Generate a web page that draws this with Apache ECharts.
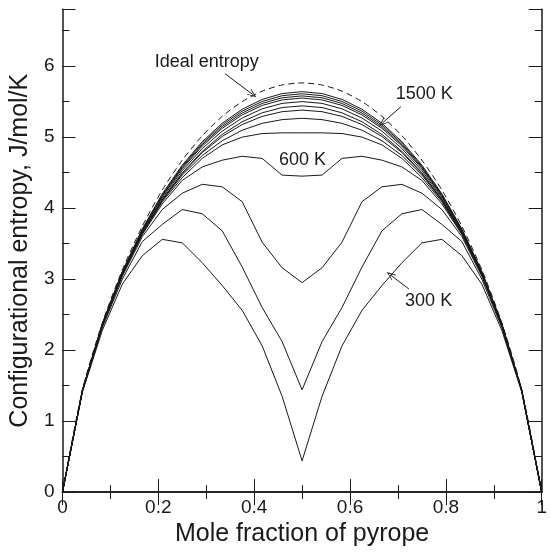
<!DOCTYPE html>
<html>
<head>
<meta charset="utf-8">
<script src="https://cdn.jsdelivr.net/npm/echarts@6/dist/echarts.min.js"></script>
<style>html,body{margin:0;padding:0;background:#fff}#c{width:550px;height:552px}</style>
</head>
<body>
<div id="c"></div>
<script>
// Mole fraction of pyrope (composition grid)
var xs = [0, 0.0417, 0.0833, 0.125, 0.1667, 0.2083, 0.25, 0.2917, 0.3333, 0.375, 0.4167, 0.4583, 0.5,
          0.5417, 0.5833, 0.625, 0.6667, 0.7083, 0.75, 0.7917, 0.8333, 0.875, 0.9167, 0.9583, 1];
// Ideal configurational entropy (dashed)
var ideal = [0, 1.44, 2.385, 3.132, 3.746, 4.255, 4.675, 5.019, 5.292, 5.5, 5.647, 5.734, 5.763,
             5.734, 5.647, 5.5, 5.292, 5.019, 4.675, 4.255, 3.746, 3.132, 2.385, 1.44, 0];
// Configurational entropy at temperatures 300 K ... 1500 K
var s300 = [0, 1.41, 2.28, 2.93, 3.33, 3.56, 3.51, 3.23, 2.91, 2.56, 2.06, 1.35, 0.44,
            1.35, 2.06, 2.56, 2.91, 3.23, 3.51, 3.56, 3.33, 2.93, 2.28, 1.41, 0];
var s400 = [0, 1.42, 2.32, 3.0, 3.53, 3.77, 3.98, 3.92, 3.68, 3.17, 2.6, 2.12, 1.44,
            2.12, 2.6, 3.17, 3.68, 3.92, 3.98, 3.77, 3.53, 3.0, 2.32, 1.42, 0];
var s500 = [0, 1.43, 2.34, 3.04, 3.6, 3.98, 4.21, 4.335, 4.3, 4.09, 3.52, 3.16, 2.95,
            3.16, 3.52, 4.09, 4.3, 4.335, 4.21, 3.98, 3.6, 3.04, 2.34, 1.43, 0];
var s600 = [0, 1.43, 2.35, 3.06, 3.63, 4.06, 4.39, 4.58, 4.675, 4.73, 4.7, 4.465, 4.45,
            4.465, 4.7, 4.73, 4.675, 4.58, 4.39, 4.06, 3.63, 3.06, 2.35, 1.43, 0];
var s700 = [0, 1.43, 2.35, 3.07, 3.64, 4.09, 4.43, 4.7, 4.89, 5.0, 5.05, 5.06, 5.06,
            5.06, 5.05, 5.0, 4.89, 4.7, 4.43, 4.09, 3.64, 3.07, 2.35, 1.43, 0];
var s800 = [0, 1.43, 2.355, 3.072, 3.646, 4.106, 4.466, 4.74, 4.948, 5.097, 5.194, 5.246, 5.265,
            5.246, 5.194, 5.097, 4.948, 4.74, 4.466, 4.106, 3.646, 3.072, 2.355, 1.43, 0];
var s900 = [0, 1.432, 2.356, 3.073, 3.648, 4.114, 4.487, 4.782, 5.009, 5.176, 5.292, 5.358, 5.38,
            5.358, 5.292, 5.176, 5.009, 4.782, 4.487, 4.114, 3.648, 3.073, 2.356, 1.432, 0];
var s1000 = [0, 1.432, 2.356, 3.075, 3.652, 4.12, 4.497, 4.8, 5.037, 5.216, 5.342, 5.416, 5.44,
             5.416, 5.342, 5.216, 5.037, 4.8, 4.497, 4.12, 3.652, 3.075, 2.356, 1.432, 0];
var s1100 = [0, 1.433, 2.361, 3.082, 3.664, 4.141, 4.528, 4.839, 5.084, 5.269, 5.398, 5.475, 5.5,
             5.475, 5.398, 5.269, 5.084, 4.839, 4.528, 4.141, 3.664, 3.082, 2.361, 1.433, 0];
var s1200 = [0, 1.435, 2.366, 3.092, 3.68, 4.162, 4.556, 4.874, 5.124, 5.313, 5.446, 5.524, 5.55,
             5.524, 5.446, 5.313, 5.124, 4.874, 4.556, 4.162, 3.68, 3.092, 2.366, 1.435, 0];
var s1300 = [0, 1.435, 2.369, 3.097, 3.689, 4.175, 4.573, 4.894, 5.147, 5.339, 5.474, 5.554, 5.58,
             5.554, 5.474, 5.339, 5.147, 4.894, 4.573, 4.175, 3.689, 3.097, 2.369, 1.435, 0];
var s1400 = [0, 1.436, 2.371, 3.103, 3.699, 4.188, 4.589, 4.915, 5.171, 5.366, 5.502, 5.583, 5.61,
             5.583, 5.502, 5.366, 5.171, 4.915, 4.589, 4.188, 3.699, 3.103, 2.371, 1.436, 0];
var s1500 = [0, 1.437, 2.374, 3.109, 3.708, 4.201, 4.606, 4.935, 5.195, 5.392, 5.531, 5.613, 5.64,
             5.613, 5.531, 5.392, 5.195, 4.935, 4.606, 4.201, 3.708, 3.109, 2.374, 1.437, 0];
var curves = [s300, s400, s500, s600, s700, s800, s900, s1000, s1100, s1200, s1300, s1400, s1500];
var curveNames = ['300 K', '400 K', '500 K', '600 K', '700 K', '800 K', '900 K', '1000 K',
                  '1100 K', '1200 K', '1300 K', '1400 K', '1500 K'];
// Tick labels
var xTicks = ['0', '0.2', '0.4', '0.6', '0.8', '1'];
var yTicks = ['0', '1', '2', '3', '4', '5', '6'];

var FONT = "'Liberation Sans', Arial, Helvetica, sans-serif";
var INK = '#1a1a1a';

function pairs(vals) { return xs.map(function (x, i) { return [x, vals[i]]; }); }

var chart = echarts.init(document.getElementById('c'), null, { renderer: 'canvas' });

var axisLineStyle = { show: true, lineStyle: { color: INK, width: 1.5 } };
function xAxisDef(pos, labels) {
  return {
    type: 'value', position: pos, min: 0, max: 1, interval: 0.2,
    axisLine: axisLineStyle,
    axisTick: { show: true, inside: true, length: 13, lineStyle: { color: INK, width: 1 } },
    minorTick: { show: true, splitNumber: 2, length: 7, lineStyle: { color: INK, width: 1 } },
    splitLine: { show: false }, minorSplitLine: { show: false },
    axisLabel: labels ? {
      show: true, margin: 6, fontSize: 19, color: INK, fontFamily: FONT,
      formatter: function (v) { var s = String(+v.toFixed(1)); return xTicks.indexOf(s) >= 0 ? s : ''; }
    } : { show: false }
  };
}
function yAxisDef(pos, interval, len, labels, line) {
  return {
    type: 'value', position: pos, min: 0, max: 6.8, interval: interval,
    axisLine: line ? axisLineStyle : { show: false },
    axisTick: { show: true, inside: true, length: len, lineStyle: { color: INK, width: 1 } },
    splitLine: { show: false },
    axisLabel: labels ? {
      show: true, margin: 8, fontSize: 19, color: INK, fontFamily: FONT,
      formatter: function (v) { var s = String(+v.toFixed(1)); return yTicks.indexOf(s) >= 0 ? s : ''; }
    } : { show: false }
  };
}

var xA0 = xAxisDef('bottom', true);
xA0.name = 'Mole fraction of pyrope';
xA0.nameLocation = 'middle';
xA0.nameGap = 24;
xA0.nameTextStyle = { fontSize: 25, color: INK, fontFamily: FONT };

var yA0 = yAxisDef('left', 1, 13, true, true);
yA0.name = 'Configurational entropy, J/mol/K';
yA0.nameLocation = 'middle';
yA0.nameGap = 25;
yA0.nameTextStyle = { fontSize: 25, color: INK, fontFamily: FONT };

var chevron = 'path://M5,0 L10,10 L8.8,10 L5,2.4 L1.2,10 L0,10 Z';

var series = curves.map(function (vals, i) {
  return {
    name: curveNames[i], type: 'line', data: pairs(vals), showSymbol: false, symbol: 'none',
    xAxisIndex: 0, yAxisIndex: 0, silent: true,
    lineStyle: { color: INK, width: 1 }
  };
});
series.push({
  name: 'Ideal entropy', type: 'line', data: pairs(ideal), showSymbol: false, symbol: 'none',
  xAxisIndex: 0, yAxisIndex: 0, silent: true, smooth: 0.25,
  lineStyle: { color: INK, width: 1, type: [6, 4] },
  markPoint: {
    symbol: 'circle', symbolSize: 0, silent: true, animation: false,
    label: { show: true, position: 'inside', fontSize: 18, color: INK, fontFamily: FONT, formatter: '{b}' },
    data: [
      { name: 'Ideal entropy', coord: [0.301, 6.06] },
      { name: '1500 K', coord: [0.755, 5.6] },
      { name: '600 K', coord: [0.501, 4.67] },
      { name: '300 K', coord: [0.764, 2.69] }
    ]
  },
  markLine: {
    silent: true, animation: false, symbol: ['none', chevron], symbolSize: [7, 9],
    label: { show: false },
    lineStyle: { color: INK, width: 1, type: 'solid' },
    data: [
      [{ coord: [0.339, 5.894] }, { coord: [0.397, 5.6] }],
      [{ coord: [0.706, 5.428] }, { coord: [0.668, 5.2] }],
      [{ coord: [0.723, 2.86] }, { coord: [0.684, 3.06] }]
    ]
  }
});

chart.setOption({
  animation: false,
  backgroundColor: '#fff',
  grid: { left: 60, right: 3.5, top: 9.3, bottom: 55.3, containLabel: false },
  xAxis: [xA0, xAxisDef('top', false)],
  yAxis: [
    yA0,
    yAxisDef('left', 0.5, 7, false, false),
    yAxisDef('right', 1, 13, false, true),
    yAxisDef('right', 0.5, 7, false, false)
  ],
  series: series
});
</script>
</body>
</html>
